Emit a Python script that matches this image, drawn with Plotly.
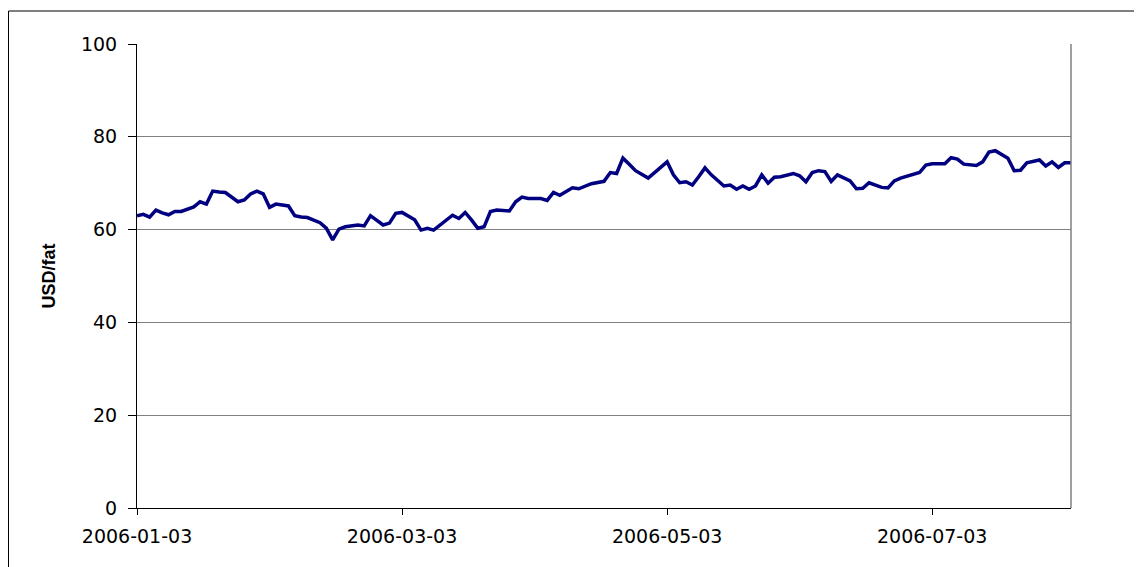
import plotly.graph_objects as go

# Trading-day index (0 = 2006-01-03) and price in USD per barrel
day = [0, 1, 2, 3, 4, 5, 6, 7, 9, 10, 11, 12, 13, 14, 16, 17, 18, 19, 20, 21,
       22, 24, 25, 26, 27, 28, 29, 30, 31, 32, 33, 35, 36, 37, 38, 39, 40, 41, 42, 43,
       44, 45, 46, 47, 48, 49, 50, 51, 52, 53, 54, 55, 56, 57, 59, 60, 61, 62, 64, 65,
       66, 67, 68, 69, 70, 71, 72, 74, 75, 76, 77, 78, 79, 81, 82, 83, 84, 85, 86, 87,
       88, 89, 90, 91, 92, 93, 94, 95, 96, 97, 98, 99, 100, 101, 102, 104, 105, 106, 107, 108,
       109, 110, 111, 113, 114, 115, 116, 117, 118, 119, 120, 121, 124, 125, 126, 128, 129, 130, 131, 133,
       134, 135, 136, 138, 139, 140, 141, 143, 144, 145, 146, 147, 148]
price = [63.0, 63.3, 62.7, 64.2, 63.6, 63.2, 63.9, 63.9, 64.9, 66.0, 65.5, 68.3, 68.1, 68.0, 66.0, 66.4, 67.7, 68.3, 67.7, 64.8,
         65.5, 65.1, 63.0, 62.7, 62.6, 62.1, 61.5, 60.3, 57.8, 60.1, 60.6, 61.0, 60.8, 63.0, 62.1, 61.0, 61.4, 63.5, 63.7, 62.9,
         62.1, 59.9, 60.3, 59.9, 61.0, 61.9, 63.1, 62.4, 63.7, 62.1, 60.3, 60.6, 63.9, 64.2, 64.0, 66.0, 67.0, 66.7, 66.7, 66.3,
         68.0, 67.4, 68.3, 69.0, 68.8, 69.4, 69.9, 70.4, 72.3, 72.1, 75.4, 74.1, 72.7, 71.1, 72.3, 73.6, 74.6, 71.8, 70.1, 70.3,
         69.6, 71.4, 73.3, 71.8, 70.5, 69.4, 69.6, 68.7, 69.4, 68.7, 69.4, 71.8, 70.0, 71.3, 71.4, 72.1, 71.6, 70.3, 72.3, 72.7,
         72.5, 70.4, 71.8, 70.5, 68.8, 68.9, 70.1, 69.5, 69.1, 69.0, 70.5, 71.1, 72.3, 73.9, 74.2, 74.2, 75.5, 75.2, 74.1, 73.8,
         74.6, 76.7, 77.0, 75.4, 72.7, 72.8, 74.4, 75.0, 73.7, 74.6, 73.4, 74.4, 74.4]

tick_days = [0, 42, 84, 126]
tick_labels = ["2006-01-03", "2006-03-03", "2006-05-03", "2006-07-03"]
y_ticks = [0, 20, 40, 60, 80, 100]

TICK_FONT = "DejaVu Sans, Verdana, sans-serif"
TITLE_FONT = "Liberation Sans, Arial, sans-serif"

# The page adds an 8px body margin, so the plot area (page x 137..1071, y 44..508)
# sits at figure x 129..1063, y 36..500.
L, T, W, H = 129, 36, 934, 464

fig = go.Figure()
fig.add_trace(go.Scatter(x=day, y=price, mode="lines",
                         line=dict(color="#000080", width=3.5), showlegend=False,
                         hoverinfo="x+y"))


def px_x(fig_px):
    return (fig_px - L) / W


def px_y(fig_px):
    return (T + H - fig_px) / H


fig.update_layout(
    width=1142, height=567,
    margin=dict(l=L, r=1142 - L - W, t=T, b=567 - T - H, autoexpand=False),
    paper_bgcolor="white", plot_bgcolor="white",
    font=dict(family=TICK_FONT, size=19, color="black"),
    xaxis=dict(range=[0, 148], tickvals=tick_days, ticktext=tick_labels,
               ticks="outside", ticklen=6, tickcolor="black", tickwidth=1,
               showline=True, linecolor="black", linewidth=1,
               showgrid=False, zeroline=False, ticklabelstandoff=5,
               tickfont=dict(family=TICK_FONT, size=19)),
    yaxis=dict(range=[0, 100], tickvals=y_ticks,
               ticks="outside", ticklen=8, tickcolor="black", tickwidth=1,
               showline=True, linecolor="black", linewidth=1,
               showgrid=True, gridcolor="#808080", gridwidth=1,
               zeroline=False, ticklabelstandoff=7,
               tickfont=dict(family=TICK_FONT, size=19),
               title=dict(text="<b>USD/fat</b>", standoff=20,
                          font=dict(family=TITLE_FONT, size=18))),
    shapes=[
        # gray plot-area border on the right
        dict(type="line", xref="paper", yref="paper", x0=1, x1=1, y0=0, y1=1,
             line=dict(color="#808080", width=1.5)),
        # outer chart frame
        dict(type="rect", xref="paper", yref="paper",
             x0=px_x(0.5), x1=px_x(1160),
             y0=px_y(600), y1=px_y(3),
             line=dict(color="black", width=1), fillcolor="rgba(0,0,0,0)",
             layer="below"),
    ],
)

fig.write_html("out.html")
